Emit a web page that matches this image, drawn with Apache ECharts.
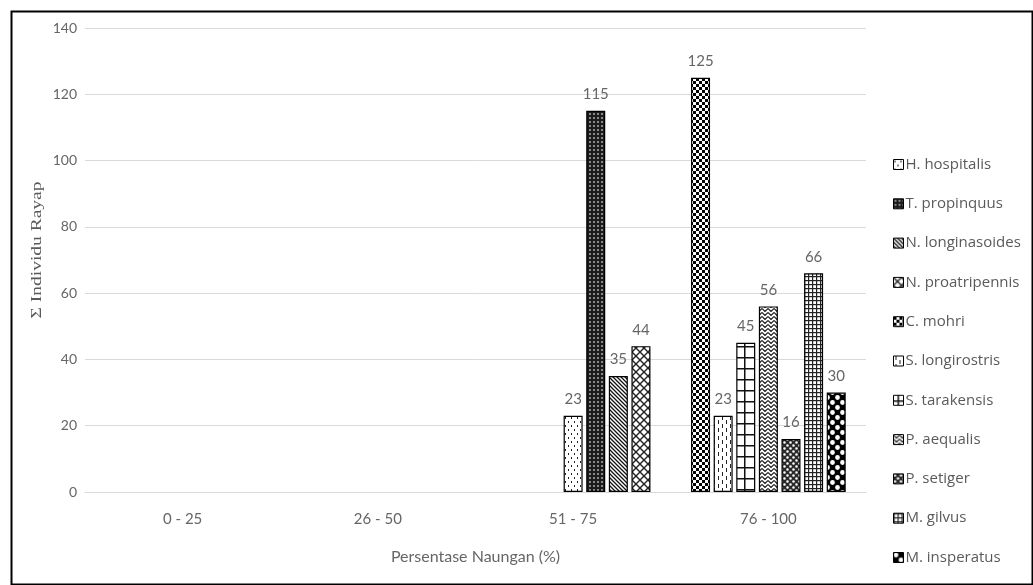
<!DOCTYPE html>
<html>
<head>
<meta charset="utf-8">
<script src="https://cdn.jsdelivr.net/npm/echarts@6/dist/echarts.min.js"></script>
<style>
  html, body { margin: 0; padding: 0; background: #fff; }
  #chart { width: 1033px; height: 585px; }
</style>
</head>
<body>
<div id="chart"></div>
<script>
// Shade-level categories on the x axis
const categories = ['0 - 25', '26 - 50', '51 - 75', '76 - 100'];

// Termite species (legend order)
const species = [
  'H. hospitalis', 'T. propinquus', 'N. longinasoides', 'N. proatripennis',
  'C. mohri', 'S. longirostris', 'S. tarakensis', 'P. aequalis',
  'P. setiger', 'M. gilvus', 'M. insperatus'
];

// Individual counts per species for each shade category
const hHospitalis     = [null, null, 23, null];
const tPropinquus     = [null, null, 115, null];
const nLonginasoides  = [null, null, 35, null];
const nProatripennis  = [null, null, 44, null];
const cMohri          = [null, null, null, 125];
const sLongirostris   = [null, null, null, 23];
const sTarakensis     = [null, null, null, 45];
const pAequalis       = [null, null, null, 56];
const pSetiger        = [null, null, null, 16];
const mGilvus         = [null, null, null, 66];
const mInsperatus     = [null, null, null, 30];

const valueTicks = [0, 20, 40, 60, 80, 100, 120, 140];

const seriesValues = [
  hHospitalis, tPropinquus, nLonginasoides, nProatripennis, cMohri,
  sLongirostris, sTarakensis, pAequalis, pSetiger, mGilvus, mInsperatus
];

// ---- fill patterns (monochrome hatches) ----
function tile(w, h, draw) {
  const c = document.createElement('canvas');
  c.width = w; c.height = h;
  const g = c.getContext('2d');
  g.fillStyle = '#fff';
  g.fillRect(0, 0, w, h);
  draw(g, w, h);
  return { image: c, repeat: 'repeat' };
}
const patterns = [
  // dotted
  tile(6, 8, g => { g.fillStyle = '#222'; g.fillRect(1, 1, 1, 2); g.fillRect(4, 5, 1, 2); }),
  // dark with light dots
  tile(4, 4, g => { g.fillStyle = '#1c1c1c'; g.fillRect(0, 0, 4, 4); g.fillStyle = '#8a8a8a'; g.fillRect(1, 1, 2, 2); }),
  // dense diagonal lines
  tile(4, 4, g => { g.strokeStyle = '#111'; g.lineWidth = 1.3; g.beginPath();
    g.moveTo(-1, -1); g.lineTo(5, 5); g.moveTo(-1, 3); g.lineTo(1, 5); g.moveTo(3, -1); g.lineTo(5, 1); g.stroke(); }),
  // diagonal lattice
  tile(8, 8, g => { g.strokeStyle = '#222'; g.lineWidth = 1.4; g.beginPath();
    g.moveTo(0, 0); g.lineTo(8, 8); g.moveTo(8, 0); g.lineTo(0, 8); g.stroke(); }),
  // checkerboard
  tile(6, 6, g => { g.fillStyle = '#000'; g.fillRect(0, 0, 3, 3); g.fillRect(3, 3, 3, 3); }),
  // dashed vertical
  tile(8, 8, g => { g.fillStyle = '#222'; g.fillRect(2, 0, 1, 4); g.fillRect(6, 4, 1, 4); }),
  // large grid
  tile(10, 11, g => { g.fillStyle = '#111'; g.fillRect(4, 0, 1.5, 11); g.fillRect(0, 5, 10, 1.5); }),
  // zigzag
  tile(6, 4, g => { g.strokeStyle = '#222'; g.lineWidth = 1.2; g.beginPath();
    g.moveTo(0, 0.5); g.lineTo(3, 3.5); g.lineTo(6, 0.5); g.stroke(); }),
  // spotted
  tile(6, 6, g => { g.fillStyle = '#2a2a2a'; g.fillRect(0, 0, 6, 6); g.fillStyle = '#fff';
    g.beginPath(); g.arc(1.5, 1.5, 1.3, 0, Math.PI * 2); g.arc(4.5, 4.5, 1.3, 0, Math.PI * 2); g.fill(); }),
  // small grid
  tile(4, 4, g => { g.fillStyle = '#222'; g.fillRect(0, 0, 1.2, 4); g.fillRect(0, 0, 4, 1.2); }),
  // black with white round spots
  tile(10, 10, g => { g.fillStyle = '#000'; g.fillRect(0, 0, 10, 10); g.fillStyle = '#fff';
    g.beginPath(); g.arc(2.5, 2.5, 2.4, 0, Math.PI * 2); g.closePath();
    g.moveTo(10, 7.5); g.arc(7.5, 7.5, 2.4, 0, Math.PI * 2); g.fill(); })
];

// cluster slot of each species within its shade group
const slotOf = [4, 5, 6, 7, 1, 2, 3, 4, 5, 6, 7];
// series are added so that slots appear left-to-right in order
const drawOrder = [4, 5, 6, 0, 1, 2, 3, 7, 8, 9, 10];

const textFont = 'Lato, "Open Sans", sans-serif';
const gray = '#666';

const series = drawOrder.map(i => ({
  name: species[i],
  type: 'bar',
  stack: 'slot' + slotOf[i],
  data: seriesValues[i],
  barWidth: 19,
  barGap: '19%',
  itemStyle: { color: patterns[i], borderColor: '#000', borderWidth: 1.2 },
  label: {
    show: true, position: 'top', distance: 9,
    color: gray, fontSize: 15, fontFamily: textFont
  }
}));

const chart = echarts.init(document.getElementById('chart'), null, { renderer: 'canvas' });
chart.setOption({
  animation: false,
  backgroundColor: '#fff',
  grid: { left: 85, right: 167, top: 28, bottom: 93, containLabel: false },
  legend: {
    data: species,
    orient: 'vertical',
    left: 888, top: 151,
    itemWidth: 10, itemHeight: 10, itemGap: 22.3,
    icon: 'rect',
    itemStyle: { borderColor: '#000', borderWidth: 1 },
    textStyle: { color: '#5a5a5a', fontSize: 15, fontFamily: '"Open Sans", Lato, sans-serif', lineHeight: 17, padding: [0, 0, 0, -3] }
  },
  xAxis: {
    type: 'category',
    data: categories,
    axisLine: { lineStyle: { color: '#d9d9d9', width: 1 } },
    axisTick: { show: false },
    axisLabel: { color: gray, fontSize: 15, fontFamily: textFont, margin: 20 },
    name: 'Persentase Naungan (%)',
    nameLocation: 'middle',
    nameGap: 57,
    nameTextStyle: { color: gray, fontSize: 16, fontFamily: textFont }
  },
  yAxis: {
    type: 'value',
    min: valueTicks[0],
    max: valueTicks[valueTicks.length - 1],
    interval: valueTicks[1] - valueTicks[0],
    axisLine: { show: false },
    axisTick: { show: false },
    axisLabel: { color: gray, fontSize: 14, fontFamily: textFont, margin: 8 },
    splitLine: { lineStyle: { color: '#d9d9d9', width: 1 } }
  },
  graphic: [
    {
      // vertical value-axis title, set in a serif face and slightly stretched
      type: 'text',
      x: 37, y: 250,
      rotation: Math.PI / 2,
      scaleX: 1.3,
      silent: true,
      style: {
        text: 'Σ Individu Rayap',
        fill: '#5a5a5a',
        font: '15px "Liberation Serif", "DejaVu Serif", serif',
        textAlign: 'center',
        textVerticalAlign: 'middle'
      }
    },
    {
      type: 'rect',
      left: 9, top: 9,
      shape: { width: 1021, height: 573 },
      style: { fill: 'none', stroke: '#000', lineWidth: 2 },
      silent: true
    }
  ],
  series: series
});
</script>
</body>
</html>
